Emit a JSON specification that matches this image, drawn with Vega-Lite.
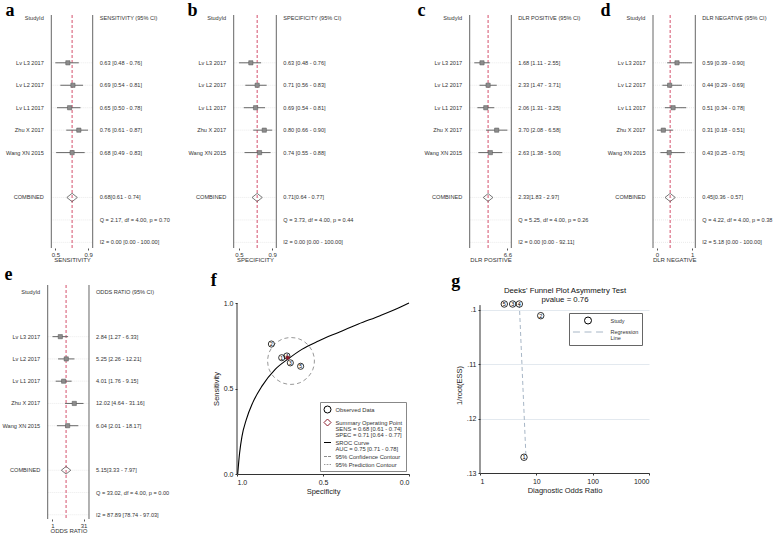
{
"$schema": "https://vega.github.io/schema/vega-lite/v6.json",
"background": "white",
"padding": {"left": 2, "top": 1, "right": 0, "bottom": 0},
"autosize": {"type": "pad"},
"columns": 4,
"spacing": {"row": 37, "column": 0},
"align": "each",
"bounds": "flush",
"resolve": {"scale": {"color": "independent", "shape": "independent"}, "legend": {"color": "independent", "shape": "independent"}},
"datasets": {
"forest": [
{"panel":"a","slot":0,"kind":"header","label":"StudyId","text":"SENSITIVITY (95% CI)"},
{"panel":"a","slot":2,"kind":"study","label":"Lv L3 2017","est":0.63,"lo":0.48,"hi":0.76,"text":"0.63 [0.48 - 0.76]"},
{"panel":"a","slot":3,"kind":"study","label":"Lv L2 2017","est":0.69,"lo":0.54,"hi":0.81,"text":"0.69 [0.54 - 0.81]"},
{"panel":"a","slot":4,"kind":"study","label":"Lv L1 2017","est":0.65,"lo":0.50,"hi":0.78,"text":"0.65 [0.50 - 0.78]"},
{"panel":"a","slot":5,"kind":"study","label":"Zhu X 2017","est":0.76,"lo":0.61,"hi":0.87,"text":"0.76 [0.61 - 0.87]"},
{"panel":"a","slot":6,"kind":"study","label":"Wang XN 2015","est":0.68,"lo":0.49,"hi":0.83,"text":"0.68 [0.49 - 0.83]"},
{"panel":"a","slot":8,"kind":"combined","label":"COMBINED","est":0.68,"lo":0.61,"hi":0.74,"text":"0.68[0.61 - 0.74]"},
{"panel":"a","slot":9,"kind":"stat","label":"","text":"Q =  2.17, df = 4.00, p =  0.70"},
{"panel":"a","slot":10,"kind":"stat","label":"","text":"I2 = 0.00 [0.00 - 100.00]"},
{"panel":"b","slot":0,"kind":"header","label":"StudyId","text":"SPECIFICITY (95% CI)"},
{"panel":"b","slot":2,"kind":"study","label":"Lv L3 2017","est":0.63,"lo":0.48,"hi":0.76,"text":"0.63 [0.48 - 0.76]"},
{"panel":"b","slot":3,"kind":"study","label":"Lv L2 2017","est":0.71,"lo":0.56,"hi":0.83,"text":"0.71 [0.56 - 0.83]"},
{"panel":"b","slot":4,"kind":"study","label":"Lv L1 2017","est":0.69,"lo":0.54,"hi":0.81,"text":"0.69 [0.54 - 0.81]"},
{"panel":"b","slot":5,"kind":"study","label":"Zhu X 2017","est":0.80,"lo":0.66,"hi":0.90,"text":"0.80 [0.66 - 0.90]"},
{"panel":"b","slot":6,"kind":"study","label":"Wang XN 2015","est":0.74,"lo":0.55,"hi":0.88,"text":"0.74 [0.55 - 0.88]"},
{"panel":"b","slot":8,"kind":"combined","label":"COMBINED","est":0.71,"lo":0.64,"hi":0.77,"text":"0.71[0.64 - 0.77]"},
{"panel":"b","slot":9,"kind":"stat","label":"","text":"Q =  3.73, df = 4.00, p =  0.44"},
{"panel":"b","slot":10,"kind":"stat","label":"","text":"I2 = 0.00 [0.00 - 100.00]"},
{"panel":"c","slot":0,"kind":"header","label":"StudyId","text":"DLR POSITIVE (95% CI)"},
{"panel":"c","slot":2,"kind":"study","label":"Lv L3 2017","est":1.68,"lo":1.11,"hi":2.55,"text":"1.68 [1.11 - 2.55]"},
{"panel":"c","slot":3,"kind":"study","label":"Lv L2 2017","est":2.33,"lo":1.47,"hi":3.71,"text":"2.33 [1.47 - 3.71]"},
{"panel":"c","slot":4,"kind":"study","label":"Lv L1 2017","est":2.06,"lo":1.31,"hi":3.25,"text":"2.06 [1.31 - 3.25]"},
{"panel":"c","slot":5,"kind":"study","label":"Zhu X 2017","est":3.70,"lo":2.08,"hi":6.58,"text":"3.70 [2.08 - 6.58]"},
{"panel":"c","slot":6,"kind":"study","label":"Wang XN 2015","est":2.63,"lo":1.38,"hi":5.00,"text":"2.63 [1.38 - 5.00]"},
{"panel":"c","slot":8,"kind":"combined","label":"COMBINED","est":2.33,"lo":1.83,"hi":2.97,"text":"2.33[1.83 - 2.97]"},
{"panel":"c","slot":9,"kind":"stat","label":"","text":"Q =  5.25, df = 4.00, p =  0.26"},
{"panel":"c","slot":10,"kind":"stat","label":"","text":"I2 = 0.00 [0.00 - 92.11]"},
{"panel":"d","slot":0,"kind":"header","label":"StudyId","text":"DLR NEGATIVE (95% CI)"},
{"panel":"d","slot":2,"kind":"study","label":"Lv L3 2017","est":0.59,"lo":0.39,"hi":0.90,"text":"0.59 [0.39 - 0.90]"},
{"panel":"d","slot":3,"kind":"study","label":"Lv L2 2017","est":0.44,"lo":0.29,"hi":0.69,"text":"0.44 [0.29 - 0.69]"},
{"panel":"d","slot":4,"kind":"study","label":"Lv L1 2017","est":0.51,"lo":0.34,"hi":0.78,"text":"0.51 [0.34 - 0.78]"},
{"panel":"d","slot":5,"kind":"study","label":"Zhu X 2017","est":0.31,"lo":0.18,"hi":0.51,"text":"0.31 [0.18 - 0.51]"},
{"panel":"d","slot":6,"kind":"study","label":"Wang XN 2015","est":0.43,"lo":0.25,"hi":0.75,"text":"0.43 [0.25 - 0.75]"},
{"panel":"d","slot":8,"kind":"combined","label":"COMBINED","est":0.45,"lo":0.36,"hi":0.57,"text":"0.45[0.36 - 0.57]"},
{"panel":"d","slot":9,"kind":"stat","label":"","text":"Q =  4.22, df = 4.00, p =  0.38"},
{"panel":"d","slot":10,"kind":"stat","label":"","text":"I2 = 5.18 [0.00 - 100.00]"},
{"panel":"e","slot":0,"kind":"header","label":"StudyId","text":"ODDS RATIO (95% CI)"},
{"panel":"e","slot":2,"kind":"study","label":"Lv L3 2017","est":2.84,"lo":1.27,"hi":6.33,"text":"2.84 [1.27 - 6.33]"},
{"panel":"e","slot":3,"kind":"study","label":"Lv L2 2017","est":5.25,"lo":2.26,"hi":12.21,"text":"5.25 [2.26 - 12.21]"},
{"panel":"e","slot":4,"kind":"study","label":"Lv L1 2017","est":4.01,"lo":1.76,"hi":9.15,"text":"4.01 [1.76 - 9.15]"},
{"panel":"e","slot":5,"kind":"study","label":"Zhu X 2017","est":12.02,"lo":4.64,"hi":31.16,"text":"12.02 [4.64 - 31.16]"},
{"panel":"e","slot":6,"kind":"study","label":"Wang XN 2015","est":6.04,"lo":2.01,"hi":18.17,"text":"6.04 [2.01 - 18.17]"},
{"panel":"e","slot":8,"kind":"combined","label":"COMBINED","est":5.15,"lo":3.33,"hi":7.97,"text":"5.15[3.33 - 7.97]"},
{"panel":"e","slot":9,"kind":"stat","label":"","text":"Q = 33.02, df = 4.00, p =  0.00"},
{"panel":"e","slot":10,"kind":"stat","label":"","text":"I2 = 87.89 [78.74 - 97.03]"}
],
"sroc": [
{"i":0,"spec":0.996,"sens":0.0,"fs":"SROC Curve|AUC = 0.75 [0.71 - 0.78]"},
{"i":1,"spec":0.985,"sens":0.122,"fs":"SROC Curve|AUC = 0.75 [0.71 - 0.78]"},
{"i":2,"spec":0.971,"sens":0.220,"fs":"SROC Curve|AUC = 0.75 [0.71 - 0.78]"},
{"i":3,"spec":0.946,"sens":0.318,"fs":"SROC Curve|AUC = 0.75 [0.71 - 0.78]"},
{"i":4,"spec":0.909,"sens":0.416,"fs":"SROC Curve|AUC = 0.75 [0.71 - 0.78]"},
{"i":5,"spec":0.855,"sens":0.514,"fs":"SROC Curve|AUC = 0.75 [0.71 - 0.78]"},
{"i":6,"spec":0.778,"sens":0.612,"fs":"SROC Curve|AUC = 0.75 [0.71 - 0.78]"},
{"i":7,"spec":0.700,"sens":0.675,"fs":"SROC Curve|AUC = 0.75 [0.71 - 0.78]"},
{"i":8,"spec":0.623,"sens":0.729,"fs":"SROC Curve|AUC = 0.75 [0.71 - 0.78]"},
{"i":9,"spec":0.526,"sens":0.778,"fs":"SROC Curve|AUC = 0.75 [0.71 - 0.78]"},
{"i":10,"spec":0.410,"sens":0.828,"fs":"SROC Curve|AUC = 0.75 [0.71 - 0.78]"},
{"i":11,"spec":0.294,"sens":0.877,"fs":"SROC Curve|AUC = 0.75 [0.71 - 0.78]"},
{"i":12,"spec":0.168,"sens":0.926,"fs":"SROC Curve|AUC = 0.75 [0.71 - 0.78]"},
{"i":13,"spec":0.052,"sens":0.975,"fs":"SROC Curve|AUC = 0.75 [0.71 - 0.78]"},
{"i":14,"spec":0.0,"sens":1.0,"fs":"SROC Curve|AUC = 0.75 [0.71 - 0.78]"}
],
"contour": [
{"i":0,"spec":0.822,"sens":0.661,"fs":"95% Confidence Contour"},
{"i":1,"spec":0.812,"sens":0.713,"fs":"95% Confidence Contour"},
{"i":2,"spec":0.782,"sens":0.758,"fs":"95% Confidence Contour"},
{"i":3,"spec":0.738,"sens":0.788,"fs":"95% Confidence Contour"},
{"i":4,"spec":0.686,"sens":0.798,"fs":"95% Confidence Contour"},
{"i":5,"spec":0.634,"sens":0.788,"fs":"95% Confidence Contour"},
{"i":6,"spec":0.590,"sens":0.758,"fs":"95% Confidence Contour"},
{"i":7,"spec":0.560,"sens":0.713,"fs":"95% Confidence Contour"},
{"i":8,"spec":0.550,"sens":0.661,"fs":"95% Confidence Contour"},
{"i":9,"spec":0.560,"sens":0.609,"fs":"95% Confidence Contour"},
{"i":10,"spec":0.590,"sens":0.564,"fs":"95% Confidence Contour"},
{"i":11,"spec":0.634,"sens":0.534,"fs":"95% Confidence Contour"},
{"i":12,"spec":0.686,"sens":0.524,"fs":"95% Confidence Contour"},
{"i":13,"spec":0.738,"sens":0.534,"fs":"95% Confidence Contour"},
{"i":14,"spec":0.782,"sens":0.564,"fs":"95% Confidence Contour"},
{"i":15,"spec":0.812,"sens":0.609,"fs":"95% Confidence Contour"}
],
"observed": [
{"id":"1","spec":0.74,"sens":0.68,"fs":"Observed Data"},
{"id":"2","spec":0.80,"sens":0.76,"fs":"Observed Data"},
{"id":"3","spec":0.69,"sens":0.65,"fs":"Observed Data"},
{"id":"4","spec":0.71,"sens":0.69,"fs":"Observed Data"},
{"id":"5","spec":0.63,"sens":0.63,"fs":"Observed Data"}
],
"summary": [
{"spec":0.705,"sens":0.68}
],
"deeks": [
{"id":"5","dor":2.70,"ess":0.0989,"gs":"Study"},
{"id":"3","dor":3.80,"ess":0.0989,"gs":"Study"},
{"id":"4","dor":4.99,"ess":0.0989,"gs":"Study"},
{"id":"2","dor":11.97,"ess":0.10105,"gs":"Study"},
{"id":"1","dor":6.04,"ess":0.1271,"gs":"Study"}
],
"deeksline": [
{"i":0,"dor":4.99,"ess":0.0989,"gs":"Regression|Line"},
{"i":1,"dor":6.56,"ess":0.1273,"gs":"Regression|Line"}
]
},
"concat": [
{
"width": 189, "height": 233,
"data": {"name": "forest"},
"transform": [{"filter": "datum.panel == 'a'"}],
"layer": [
{"transform":[{"filter":"datum.kind != 'header'"}],"mark":{"type":"rule","color":"#e2e2e2","strokeDash":[1,1],"strokeWidth":0.7},"encoding":{"x":{"datum":0.4324,"type":"quantitative","scale":{"domain":[0.3931,2.6431],"nice":false,"zero":false},"axis":{"values":[0.48,0.87],"format":".1f","title":"SENSITIVITY","titleX":24}},"x2":{"datum":0.9252},"y":{"field":"slot","type":"quantitative","scale":{"domain":[-0.13,10.25],"reverse":true,"nice":false,"zero":false},"axis":{"title":"a","titleX":-43,"titleY":0,"titleAngle":0,"titleAlign":"left","titleBaseline":"alphabetic","titleFont":"Liberation Serif","titleFontSize":18,"titleFontWeight":"bold","titleColor":"#000","labels":false,"ticks":false,"domain":false,"grid":false}}}},
{"transform":[{"filter":"datum.kind == 'header'"}],"mark":{"type":"rule","color":"#666","strokeWidth":1},"encoding":{"x":{"datum":0.4324,"type":"quantitative","scale":{"domain":[0.3931,2.6431],"nice":false,"zero":false},"axis":{"values":[0.48,0.87],"format":".1f","title":"SENSITIVITY","titleX":24}}}},
{"transform":[{"filter":"datum.kind == 'header'"}],"mark":{"type":"rule","color":"#666","strokeWidth":1},"encoding":{"x":{"datum":0.9252,"type":"quantitative","scale":{"domain":[0.3931,2.6431],"nice":false,"zero":false},"axis":{"values":[0.48,0.87],"format":".1f","title":"SENSITIVITY","titleX":24}}}},
{"transform":[{"filter":"datum.kind == 'combined'"}],"mark":{"type":"rule","color":"#d4506c","strokeDash":[3,2],"strokeWidth":1},"encoding":{"x":{"field":"est","type":"quantitative","scale":{"domain":[0.3931,2.6431],"nice":false,"zero":false},"axis":{"values":[0.48,0.87],"format":".1f","title":"SENSITIVITY","titleX":24}}}},
{"transform":[{"filter":"datum.kind == 'study'"}],"mark":{"type":"rule","color":"#666","strokeWidth":1},"encoding":{"x":{"field":"lo","type":"quantitative","scale":{"domain":[0.3931,2.6431],"nice":false,"zero":false},"axis":{"values":[0.48,0.87],"format":".1f","title":"SENSITIVITY","titleX":24}},"x2":{"field":"hi"},"y":{"field":"slot","type":"quantitative","scale":{"domain":[-0.13,10.25],"reverse":true,"nice":false,"zero":false},"axis":{"title":"a","titleX":-43,"titleY":0,"titleAngle":0,"titleAlign":"left","titleBaseline":"alphabetic","titleFont":"Liberation Serif","titleFontSize":18,"titleFontWeight":"bold","titleColor":"#000","labels":false,"ticks":false,"domain":false,"grid":false}}}},
{"transform":[{"filter":"datum.kind == 'study'"}],"mark":{"type":"point","shape":"square","filled":true,"size":18,"color":"#8c8c8c","stroke":"#555","strokeWidth":0.5,"opacity":1},"encoding":{"x":{"field":"est","type":"quantitative","scale":{"domain":[0.3931,2.6431],"nice":false,"zero":false},"axis":{"values":[0.48,0.87],"format":".1f","title":"SENSITIVITY","titleX":24}},"y":{"field":"slot","type":"quantitative","scale":{"domain":[-0.13,10.25],"reverse":true,"nice":false,"zero":false},"axis":{"title":"a","titleX":-43,"titleY":0,"titleAngle":0,"titleAlign":"left","titleBaseline":"alphabetic","titleFont":"Liberation Serif","titleFontSize":18,"titleFontWeight":"bold","titleColor":"#000","labels":false,"ticks":false,"domain":false,"grid":false}}}},
{"transform":[{"filter":"datum.kind == 'combined'"}],"mark":{"type":"point","shape":"M-1,0L0,-0.8L1,0L0,0.8Z","filled":false,"size":110,"color":"#555","strokeWidth":0.8,"opacity":1},"encoding":{"x":{"field":"est","type":"quantitative","scale":{"domain":[0.3931,2.6431],"nice":false,"zero":false},"axis":{"values":[0.48,0.87],"format":".1f","title":"SENSITIVITY","titleX":24}},"y":{"field":"slot","type":"quantitative","scale":{"domain":[-0.13,10.25],"reverse":true,"nice":false,"zero":false},"axis":{"title":"a","titleX":-43,"titleY":0,"titleAngle":0,"titleAlign":"left","titleBaseline":"alphabetic","titleFont":"Liberation Serif","titleFontSize":18,"titleFontWeight":"bold","titleColor":"#000","labels":false,"ticks":false,"domain":false,"grid":false}}}},
{"transform":[{"filter":"datum.label != ''"}],"mark":{"type":"text","align":"right","baseline":"middle","dx":-7.5,"fontSize":5.6,"color":"#333"},"encoding":{"x":{"datum":0.4324,"type":"quantitative","scale":{"domain":[0.3931,2.6431],"nice":false,"zero":false},"axis":{"values":[0.48,0.87],"format":".1f","title":"SENSITIVITY","titleX":24}},"y":{"field":"slot","type":"quantitative","scale":{"domain":[-0.13,10.25],"reverse":true,"nice":false,"zero":false},"axis":{"title":"a","titleX":-43,"titleY":0,"titleAngle":0,"titleAlign":"left","titleBaseline":"alphabetic","titleFont":"Liberation Serif","titleFontSize":18,"titleFontWeight":"bold","titleColor":"#000","labels":false,"ticks":false,"domain":false,"grid":false}},"text":{"field":"label"}}},
{"mark":{"type":"text","align":"left","baseline":"middle","dx":7,"fontSize":5.6,"color":"#333"},"encoding":{"x":{"datum":0.9252,"type":"quantitative","scale":{"domain":[0.3931,2.6431],"nice":false,"zero":false},"axis":{"values":[0.48,0.87],"format":".1f","title":"SENSITIVITY","titleX":24}},"y":{"field":"slot","type":"quantitative","scale":{"domain":[-0.13,10.25],"reverse":true,"nice":false,"zero":false},"axis":{"title":"a","titleX":-43,"titleY":0,"titleAngle":0,"titleAlign":"left","titleBaseline":"alphabetic","titleFont":"Liberation Serif","titleFontSize":18,"titleFontWeight":"bold","titleColor":"#000","labels":false,"ticks":false,"domain":false,"grid":false}},"text":{"field":"text"}}}
]
},
{
"width": 243, "height": 233,
"data": {"name": "forest"},
"transform": [{"filter": "datum.panel == 'b'"}],
"layer": [
{"transform":[{"filter":"datum.kind != 'header'"}],"mark":{"type":"rule","color":"#e2e2e2","strokeDash":[1,1],"strokeWidth":0.7},"encoding":{"x":{"datum":0.4129,"type":"quantitative","scale":{"domain":[0.4547,3.5307],"nice":false,"zero":false},"axis":{"values":[0.48,0.9],"format":".1f","title":"SPECIFICITY","titleX":18}},"x2":{"datum":0.9522},"y":{"field":"slot","type":"quantitative","scale":{"domain":[-0.13,10.25],"reverse":true,"nice":false,"zero":false},"axis":{"title":"b","titleX":-50,"titleY":0,"titleAngle":0,"titleAlign":"left","titleBaseline":"alphabetic","titleFont":"Liberation Serif","titleFontSize":18,"titleFontWeight":"bold","titleColor":"#000","labels":false,"ticks":false,"domain":false,"grid":false}}}},
{"transform":[{"filter":"datum.kind == 'header'"}],"mark":{"type":"rule","color":"#666","strokeWidth":1},"encoding":{"x":{"datum":0.4129,"type":"quantitative","scale":{"domain":[0.4547,3.5307],"nice":false,"zero":false},"axis":{"values":[0.48,0.9],"format":".1f","title":"SPECIFICITY","titleX":18}}}},
{"transform":[{"filter":"datum.kind == 'header'"}],"mark":{"type":"rule","color":"#666","strokeWidth":1},"encoding":{"x":{"datum":0.9522,"type":"quantitative","scale":{"domain":[0.4547,3.5307],"nice":false,"zero":false},"axis":{"values":[0.48,0.9],"format":".1f","title":"SPECIFICITY","titleX":18}}}},
{"transform":[{"filter":"datum.kind == 'combined'"}],"mark":{"type":"rule","color":"#d4506c","strokeDash":[3,2],"strokeWidth":1},"encoding":{"x":{"field":"est","type":"quantitative","scale":{"domain":[0.4547,3.5307],"nice":false,"zero":false},"axis":{"values":[0.48,0.9],"format":".1f","title":"SPECIFICITY","titleX":18}}}},
{"transform":[{"filter":"datum.kind == 'study'"}],"mark":{"type":"rule","color":"#666","strokeWidth":1},"encoding":{"x":{"field":"lo","type":"quantitative","scale":{"domain":[0.4547,3.5307],"nice":false,"zero":false},"axis":{"values":[0.48,0.9],"format":".1f","title":"SPECIFICITY","titleX":18}},"x2":{"field":"hi"},"y":{"field":"slot","type":"quantitative","scale":{"domain":[-0.13,10.25],"reverse":true,"nice":false,"zero":false},"axis":{"title":"b","titleX":-50,"titleY":0,"titleAngle":0,"titleAlign":"left","titleBaseline":"alphabetic","titleFont":"Liberation Serif","titleFontSize":18,"titleFontWeight":"bold","titleColor":"#000","labels":false,"ticks":false,"domain":false,"grid":false}}}},
{"transform":[{"filter":"datum.kind == 'study'"}],"mark":{"type":"point","shape":"square","filled":true,"size":18,"color":"#8c8c8c","stroke":"#555","strokeWidth":0.5,"opacity":1},"encoding":{"x":{"field":"est","type":"quantitative","scale":{"domain":[0.4547,3.5307],"nice":false,"zero":false},"axis":{"values":[0.48,0.9],"format":".1f","title":"SPECIFICITY","titleX":18}},"y":{"field":"slot","type":"quantitative","scale":{"domain":[-0.13,10.25],"reverse":true,"nice":false,"zero":false},"axis":{"title":"b","titleX":-50,"titleY":0,"titleAngle":0,"titleAlign":"left","titleBaseline":"alphabetic","titleFont":"Liberation Serif","titleFontSize":18,"titleFontWeight":"bold","titleColor":"#000","labels":false,"ticks":false,"domain":false,"grid":false}}}},
{"transform":[{"filter":"datum.kind == 'combined'"}],"mark":{"type":"point","shape":"M-1,0L0,-0.8L1,0L0,0.8Z","filled":false,"size":105,"color":"#555","strokeWidth":0.8,"opacity":1},"encoding":{"x":{"field":"est","type":"quantitative","scale":{"domain":[0.4547,3.5307],"nice":false,"zero":false},"axis":{"values":[0.48,0.9],"format":".1f","title":"SPECIFICITY","titleX":18}},"y":{"field":"slot","type":"quantitative","scale":{"domain":[-0.13,10.25],"reverse":true,"nice":false,"zero":false},"axis":{"title":"b","titleX":-50,"titleY":0,"titleAngle":0,"titleAlign":"left","titleBaseline":"alphabetic","titleFont":"Liberation Serif","titleFontSize":18,"titleFontWeight":"bold","titleColor":"#000","labels":false,"ticks":false,"domain":false,"grid":false}}}},
{"transform":[{"filter":"datum.label != ''"}],"mark":{"type":"text","align":"right","baseline":"middle","dx":-7.5,"fontSize":5.6,"color":"#333"},"encoding":{"x":{"datum":0.4129,"type":"quantitative","scale":{"domain":[0.4547,3.5307],"nice":false,"zero":false},"axis":{"values":[0.48,0.9],"format":".1f","title":"SPECIFICITY","titleX":18}},"y":{"field":"slot","type":"quantitative","scale":{"domain":[-0.13,10.25],"reverse":true,"nice":false,"zero":false},"axis":{"title":"b","titleX":-50,"titleY":0,"titleAngle":0,"titleAlign":"left","titleBaseline":"alphabetic","titleFont":"Liberation Serif","titleFontSize":18,"titleFontWeight":"bold","titleColor":"#000","labels":false,"ticks":false,"domain":false,"grid":false}},"text":{"field":"label"}}},
{"mark":{"type":"text","align":"left","baseline":"middle","dx":7,"fontSize":5.6,"color":"#333"},"encoding":{"x":{"datum":0.9522,"type":"quantitative","scale":{"domain":[0.4547,3.5307],"nice":false,"zero":false},"axis":{"values":[0.48,0.9],"format":".1f","title":"SPECIFICITY","titleX":18}},"y":{"field":"slot","type":"quantitative","scale":{"domain":[-0.13,10.25],"reverse":true,"nice":false,"zero":false},"axis":{"title":"b","titleX":-50,"titleY":0,"titleAngle":0,"titleAlign":"left","titleBaseline":"alphabetic","titleFont":"Liberation Serif","titleFontSize":18,"titleFontWeight":"bold","titleColor":"#000","labels":false,"ticks":false,"domain":false,"grid":false}},"text":{"field":"text"}}}
]
},
{
"width": 173, "height": 233,
"data": {"name": "forest"},
"transform": [{"filter": "datum.panel == 'c'"}],
"layer": [
{"transform":[{"filter":"datum.kind != 'header'"}],"mark":{"type":"rule","color":"#e2e2e2","strokeDash":[1,1],"strokeWidth":0.7},"encoding":{"x":{"datum":0.8672,"type":"quantitative","scale":{"type":"log","domain":[1.5088,16520],"nice":false},"axis":{"values":[1.11,6.58],"format":".1f","title":"DLR POSITIVE","titleX":10.5}},"x2":{"datum":8.12},"y":{"field":"slot","type":"quantitative","scale":{"domain":[-0.13,10.25],"reverse":true,"nice":false,"zero":false},"axis":{"title":"c","titleX":-63,"titleY":0,"titleAngle":0,"titleAlign":"left","titleBaseline":"alphabetic","titleFont":"Liberation Serif","titleFontSize":18,"titleFontWeight":"bold","titleColor":"#000","labels":false,"ticks":false,"domain":false,"grid":false}}}},
{"transform":[{"filter":"datum.kind == 'header'"}],"mark":{"type":"rule","color":"#666","strokeWidth":1},"encoding":{"x":{"datum":0.8672,"type":"quantitative","scale":{"type":"log","domain":[1.5088,16520],"nice":false},"axis":{"values":[1.11,6.58],"format":".1f","title":"DLR POSITIVE","titleX":10.5}}}},
{"transform":[{"filter":"datum.kind == 'header'"}],"mark":{"type":"rule","color":"#666","strokeWidth":1},"encoding":{"x":{"datum":8.12,"type":"quantitative","scale":{"type":"log","domain":[1.5088,16520],"nice":false},"axis":{"values":[1.11,6.58],"format":".1f","title":"DLR POSITIVE","titleX":10.5}}}},
{"transform":[{"filter":"datum.kind == 'combined'"}],"mark":{"type":"rule","color":"#d4506c","strokeDash":[3,2],"strokeWidth":1},"encoding":{"x":{"field":"est","type":"quantitative","scale":{"type":"log","domain":[1.5088,16520],"nice":false},"axis":{"values":[1.11,6.58],"format":".1f","title":"DLR POSITIVE","titleX":10.5}}}},
{"transform":[{"filter":"datum.kind == 'study'"}],"mark":{"type":"rule","color":"#666","strokeWidth":1},"encoding":{"x":{"field":"lo","type":"quantitative","scale":{"type":"log","domain":[1.5088,16520],"nice":false},"axis":{"values":[1.11,6.58],"format":".1f","title":"DLR POSITIVE","titleX":10.5}},"x2":{"field":"hi"},"y":{"field":"slot","type":"quantitative","scale":{"domain":[-0.13,10.25],"reverse":true,"nice":false,"zero":false},"axis":{"title":"c","titleX":-63,"titleY":0,"titleAngle":0,"titleAlign":"left","titleBaseline":"alphabetic","titleFont":"Liberation Serif","titleFontSize":18,"titleFontWeight":"bold","titleColor":"#000","labels":false,"ticks":false,"domain":false,"grid":false}}}},
{"transform":[{"filter":"datum.kind == 'study'"}],"mark":{"type":"point","shape":"square","filled":true,"size":18,"color":"#8c8c8c","stroke":"#555","strokeWidth":0.5,"opacity":1},"encoding":{"x":{"field":"est","type":"quantitative","scale":{"type":"log","domain":[1.5088,16520],"nice":false},"axis":{"values":[1.11,6.58],"format":".1f","title":"DLR POSITIVE","titleX":10.5}},"y":{"field":"slot","type":"quantitative","scale":{"domain":[-0.13,10.25],"reverse":true,"nice":false,"zero":false},"axis":{"title":"c","titleX":-63,"titleY":0,"titleAngle":0,"titleAlign":"left","titleBaseline":"alphabetic","titleFont":"Liberation Serif","titleFontSize":18,"titleFontWeight":"bold","titleColor":"#000","labels":false,"ticks":false,"domain":false,"grid":false}}}},
{"transform":[{"filter":"datum.kind == 'combined'"}],"mark":{"type":"point","shape":"M-1,0L0,-0.8L1,0L0,0.8Z","filled":false,"size":95,"color":"#555","strokeWidth":0.8,"opacity":1},"encoding":{"x":{"field":"est","type":"quantitative","scale":{"type":"log","domain":[1.5088,16520],"nice":false},"axis":{"values":[1.11,6.58],"format":".1f","title":"DLR POSITIVE","titleX":10.5}},"y":{"field":"slot","type":"quantitative","scale":{"domain":[-0.13,10.25],"reverse":true,"nice":false,"zero":false},"axis":{"title":"c","titleX":-63,"titleY":0,"titleAngle":0,"titleAlign":"left","titleBaseline":"alphabetic","titleFont":"Liberation Serif","titleFontSize":18,"titleFontWeight":"bold","titleColor":"#000","labels":false,"ticks":false,"domain":false,"grid":false}}}},
{"transform":[{"filter":"datum.label != ''"}],"mark":{"type":"text","align":"right","baseline":"middle","dx":-7.5,"fontSize":5.6,"color":"#333"},"encoding":{"x":{"datum":0.8672,"type":"quantitative","scale":{"type":"log","domain":[1.5088,16520],"nice":false},"axis":{"values":[1.11,6.58],"format":".1f","title":"DLR POSITIVE","titleX":10.5}},"y":{"field":"slot","type":"quantitative","scale":{"domain":[-0.13,10.25],"reverse":true,"nice":false,"zero":false},"axis":{"title":"c","titleX":-63,"titleY":0,"titleAngle":0,"titleAlign":"left","titleBaseline":"alphabetic","titleFont":"Liberation Serif","titleFontSize":18,"titleFontWeight":"bold","titleColor":"#000","labels":false,"ticks":false,"domain":false,"grid":false}},"text":{"field":"label"}}},
{"mark":{"type":"text","align":"left","baseline":"middle","dx":7,"fontSize":5.6,"color":"#333"},"encoding":{"x":{"datum":8.12,"type":"quantitative","scale":{"type":"log","domain":[1.5088,16520],"nice":false},"axis":{"values":[1.11,6.58],"format":".1f","title":"DLR POSITIVE","titleX":10.5}},"y":{"field":"slot","type":"quantitative","scale":{"domain":[-0.13,10.25],"reverse":true,"nice":false,"zero":false},"axis":{"title":"c","titleX":-63,"titleY":0,"titleAngle":0,"titleAlign":"left","titleBaseline":"alphabetic","titleFont":"Liberation Serif","titleFontSize":18,"titleFontWeight":"bold","titleColor":"#000","labels":false,"ticks":false,"domain":false,"grid":false}},"text":{"field":"text"}}}
]
},
{
"width": 112, "height": 233,
"data": {"name": "forest"},
"transform": [{"filter": "datum.panel == 'd'"}],
"layer": [
{"transform":[{"filter":"datum.kind != 'header'"}],"mark":{"type":"rule","color":"#e2e2e2","strokeDash":[1,1],"strokeWidth":0.7},"encoding":{"x":{"datum":0.0992,"type":"quantitative","scale":{"domain":[0.0992,2.3896],"nice":false,"zero":false},"axis":{"values":[0.18,0.9],"format":".0f","title":"DLR NEGATIVE","titleX":21.2}},"x2":{"datum":0.9642},"y":{"field":"slot","type":"quantitative","scale":{"domain":[-0.13,10.25],"reverse":true,"nice":false,"zero":false},"axis":{"title":"d","titleX":-53,"titleY":0,"titleAngle":0,"titleAlign":"left","titleBaseline":"alphabetic","titleFont":"Liberation Serif","titleFontSize":18,"titleFontWeight":"bold","titleColor":"#000","labels":false,"ticks":false,"domain":false,"grid":false}}}},
{"transform":[{"filter":"datum.kind == 'header'"}],"mark":{"type":"rule","color":"#666","strokeWidth":1},"encoding":{"x":{"datum":0.0992,"type":"quantitative","scale":{"domain":[0.0992,2.3896],"nice":false,"zero":false},"axis":{"values":[0.18,0.9],"format":".0f","title":"DLR NEGATIVE","titleX":21.2}}}},
{"transform":[{"filter":"datum.kind == 'header'"}],"mark":{"type":"rule","color":"#666","strokeWidth":1},"encoding":{"x":{"datum":0.9642,"type":"quantitative","scale":{"domain":[0.0992,2.3896],"nice":false,"zero":false},"axis":{"values":[0.18,0.9],"format":".0f","title":"DLR NEGATIVE","titleX":21.2}}}},
{"transform":[{"filter":"datum.kind == 'combined'"}],"mark":{"type":"rule","color":"#d4506c","strokeDash":[3,2],"strokeWidth":1},"encoding":{"x":{"field":"est","type":"quantitative","scale":{"domain":[0.0992,2.3896],"nice":false,"zero":false},"axis":{"values":[0.18,0.9],"format":".0f","title":"DLR NEGATIVE","titleX":21.2}}}},
{"transform":[{"filter":"datum.kind == 'study'"}],"mark":{"type":"rule","color":"#666","strokeWidth":1},"encoding":{"x":{"field":"lo","type":"quantitative","scale":{"domain":[0.0992,2.3896],"nice":false,"zero":false},"axis":{"values":[0.18,0.9],"format":".0f","title":"DLR NEGATIVE","titleX":21.2}},"x2":{"field":"hi"},"y":{"field":"slot","type":"quantitative","scale":{"domain":[-0.13,10.25],"reverse":true,"nice":false,"zero":false},"axis":{"title":"d","titleX":-53,"titleY":0,"titleAngle":0,"titleAlign":"left","titleBaseline":"alphabetic","titleFont":"Liberation Serif","titleFontSize":18,"titleFontWeight":"bold","titleColor":"#000","labels":false,"ticks":false,"domain":false,"grid":false}}}},
{"transform":[{"filter":"datum.kind == 'study'"}],"mark":{"type":"point","shape":"square","filled":true,"size":18,"color":"#8c8c8c","stroke":"#555","strokeWidth":0.5,"opacity":1},"encoding":{"x":{"field":"est","type":"quantitative","scale":{"domain":[0.0992,2.3896],"nice":false,"zero":false},"axis":{"values":[0.18,0.9],"format":".0f","title":"DLR NEGATIVE","titleX":21.2}},"y":{"field":"slot","type":"quantitative","scale":{"domain":[-0.13,10.25],"reverse":true,"nice":false,"zero":false},"axis":{"title":"d","titleX":-53,"titleY":0,"titleAngle":0,"titleAlign":"left","titleBaseline":"alphabetic","titleFont":"Liberation Serif","titleFontSize":18,"titleFontWeight":"bold","titleColor":"#000","labels":false,"ticks":false,"domain":false,"grid":false}}}},
{"transform":[{"filter":"datum.kind == 'combined'"}],"mark":{"type":"point","shape":"M-1,0L0,-0.8L1,0L0,0.8Z","filled":false,"size":105,"color":"#555","strokeWidth":0.8,"opacity":1},"encoding":{"x":{"field":"est","type":"quantitative","scale":{"domain":[0.0992,2.3896],"nice":false,"zero":false},"axis":{"values":[0.18,0.9],"format":".0f","title":"DLR NEGATIVE","titleX":21.2}},"y":{"field":"slot","type":"quantitative","scale":{"domain":[-0.13,10.25],"reverse":true,"nice":false,"zero":false},"axis":{"title":"d","titleX":-53,"titleY":0,"titleAngle":0,"titleAlign":"left","titleBaseline":"alphabetic","titleFont":"Liberation Serif","titleFontSize":18,"titleFontWeight":"bold","titleColor":"#000","labels":false,"ticks":false,"domain":false,"grid":false}}}},
{"transform":[{"filter":"datum.label != ''"}],"mark":{"type":"text","align":"right","baseline":"middle","dx":-7.5,"fontSize":5.6,"color":"#333"},"encoding":{"x":{"datum":0.0992,"type":"quantitative","scale":{"domain":[0.0992,2.3896],"nice":false,"zero":false},"axis":{"values":[0.18,0.9],"format":".0f","title":"DLR NEGATIVE","titleX":21.2}},"y":{"field":"slot","type":"quantitative","scale":{"domain":[-0.13,10.25],"reverse":true,"nice":false,"zero":false},"axis":{"title":"d","titleX":-53,"titleY":0,"titleAngle":0,"titleAlign":"left","titleBaseline":"alphabetic","titleFont":"Liberation Serif","titleFontSize":18,"titleFontWeight":"bold","titleColor":"#000","labels":false,"ticks":false,"domain":false,"grid":false}},"text":{"field":"label"}}},
{"mark":{"type":"text","align":"left","baseline":"middle","dx":7,"fontSize":5.6,"color":"#333"},"encoding":{"x":{"datum":0.9642,"type":"quantitative","scale":{"domain":[0.0992,2.3896],"nice":false,"zero":false},"axis":{"values":[0.18,0.9],"format":".0f","title":"DLR NEGATIVE","titleX":21.2}},"y":{"field":"slot","type":"quantitative","scale":{"domain":[-0.13,10.25],"reverse":true,"nice":false,"zero":false},"axis":{"title":"d","titleX":-53,"titleY":0,"titleAngle":0,"titleAlign":"left","titleBaseline":"alphabetic","titleFont":"Liberation Serif","titleFontSize":18,"titleFontWeight":"bold","titleColor":"#000","labels":false,"ticks":false,"domain":false,"grid":false}},"text":{"field":"text"}}}
]
},
{
"width": 118, "height": 234,
"data": {"name": "forest"},
"transform": [{"filter": "datum.panel == 'e'"}],
"layer": [
{"transform":[{"filter":"datum.kind != 'header'"}],"mark":{"type":"rule","color":"#e2e2e2","strokeDash":[1,1],"strokeWidth":0.7},"encoding":{"x":{"datum":0.7747,"type":"quantitative","scale":{"type":"log","domain":[0.7991,153300],"nice":false},"axis":{"values":[1.27,31.16],"format":".0f","title":"ODDS RATIO","titleX":20.4}},"x2":{"datum":54.7},"y":{"field":"slot","type":"quantitative","scale":{"domain":[-0.32,10.19],"reverse":true,"nice":false,"zero":false},"axis":{"title":"e","titleX":-44,"titleY":-6,"titleAngle":0,"titleAlign":"left","titleBaseline":"alphabetic","titleFont":"Liberation Serif","titleFontSize":18,"titleFontWeight":"bold","titleColor":"#000","labels":false,"ticks":false,"domain":false,"grid":false}}}},
{"transform":[{"filter":"datum.kind == 'header'"}],"mark":{"type":"rule","color":"#666","strokeWidth":1},"encoding":{"x":{"datum":0.7747,"type":"quantitative","scale":{"type":"log","domain":[0.7991,153300],"nice":false},"axis":{"values":[1.27,31.16],"format":".0f","title":"ODDS RATIO","titleX":20.4}}}},
{"transform":[{"filter":"datum.kind == 'header'"}],"mark":{"type":"rule","color":"#666","strokeWidth":1},"encoding":{"x":{"datum":54.7,"type":"quantitative","scale":{"type":"log","domain":[0.7991,153300],"nice":false},"axis":{"values":[1.27,31.16],"format":".0f","title":"ODDS RATIO","titleX":20.4}}}},
{"transform":[{"filter":"datum.kind == 'combined'"}],"mark":{"type":"rule","color":"#d4506c","strokeDash":[3,2],"strokeWidth":1},"encoding":{"x":{"field":"est","type":"quantitative","scale":{"type":"log","domain":[0.7991,153300],"nice":false},"axis":{"values":[1.27,31.16],"format":".0f","title":"ODDS RATIO","titleX":20.4}}}},
{"transform":[{"filter":"datum.kind == 'study'"}],"mark":{"type":"rule","color":"#666","strokeWidth":1},"encoding":{"x":{"field":"lo","type":"quantitative","scale":{"type":"log","domain":[0.7991,153300],"nice":false},"axis":{"values":[1.27,31.16],"format":".0f","title":"ODDS RATIO","titleX":20.4}},"x2":{"field":"hi"},"y":{"field":"slot","type":"quantitative","scale":{"domain":[-0.32,10.19],"reverse":true,"nice":false,"zero":false},"axis":{"title":"e","titleX":-44,"titleY":-6,"titleAngle":0,"titleAlign":"left","titleBaseline":"alphabetic","titleFont":"Liberation Serif","titleFontSize":18,"titleFontWeight":"bold","titleColor":"#000","labels":false,"ticks":false,"domain":false,"grid":false}}}},
{"transform":[{"filter":"datum.kind == 'study'"}],"mark":{"type":"point","shape":"square","filled":true,"size":18,"color":"#8c8c8c","stroke":"#555","strokeWidth":0.5,"opacity":1},"encoding":{"x":{"field":"est","type":"quantitative","scale":{"type":"log","domain":[0.7991,153300],"nice":false},"axis":{"values":[1.27,31.16],"format":".0f","title":"ODDS RATIO","titleX":20.4}},"y":{"field":"slot","type":"quantitative","scale":{"domain":[-0.32,10.19],"reverse":true,"nice":false,"zero":false},"axis":{"title":"e","titleX":-44,"titleY":-6,"titleAngle":0,"titleAlign":"left","titleBaseline":"alphabetic","titleFont":"Liberation Serif","titleFontSize":18,"titleFontWeight":"bold","titleColor":"#000","labels":false,"ticks":false,"domain":false,"grid":false}}}},
{"transform":[{"filter":"datum.kind == 'combined'"}],"mark":{"type":"point","shape":"M-1,0L0,-0.8L1,0L0,0.8Z","filled":false,"size":90,"color":"#555","strokeWidth":0.8,"opacity":1},"encoding":{"x":{"field":"est","type":"quantitative","scale":{"type":"log","domain":[0.7991,153300],"nice":false},"axis":{"values":[1.27,31.16],"format":".0f","title":"ODDS RATIO","titleX":20.4}},"y":{"field":"slot","type":"quantitative","scale":{"domain":[-0.32,10.19],"reverse":true,"nice":false,"zero":false},"axis":{"title":"e","titleX":-44,"titleY":-6,"titleAngle":0,"titleAlign":"left","titleBaseline":"alphabetic","titleFont":"Liberation Serif","titleFontSize":18,"titleFontWeight":"bold","titleColor":"#000","labels":false,"ticks":false,"domain":false,"grid":false}}}},
{"transform":[{"filter":"datum.label != ''"}],"mark":{"type":"text","align":"right","baseline":"middle","dx":-7.5,"fontSize":5.6,"color":"#333"},"encoding":{"x":{"datum":0.7747,"type":"quantitative","scale":{"type":"log","domain":[0.7991,153300],"nice":false},"axis":{"values":[1.27,31.16],"format":".0f","title":"ODDS RATIO","titleX":20.4}},"y":{"field":"slot","type":"quantitative","scale":{"domain":[-0.32,10.19],"reverse":true,"nice":false,"zero":false},"axis":{"title":"e","titleX":-44,"titleY":-6,"titleAngle":0,"titleAlign":"left","titleBaseline":"alphabetic","titleFont":"Liberation Serif","titleFontSize":18,"titleFontWeight":"bold","titleColor":"#000","labels":false,"ticks":false,"domain":false,"grid":false}},"text":{"field":"label"}}},
{"mark":{"type":"text","align":"left","baseline":"middle","dx":7,"fontSize":5.6,"color":"#333"},"encoding":{"x":{"datum":54.7,"type":"quantitative","scale":{"type":"log","domain":[0.7991,153300],"nice":false},"axis":{"values":[1.27,31.16],"format":".0f","title":"ODDS RATIO","titleX":20.4}},"y":{"field":"slot","type":"quantitative","scale":{"domain":[-0.32,10.19],"reverse":true,"nice":false,"zero":false},"axis":{"title":"e","titleX":-44,"titleY":-6,"titleAngle":0,"titleAlign":"left","titleBaseline":"alphabetic","titleFont":"Liberation Serif","titleFontSize":18,"titleFontWeight":"bold","titleColor":"#000","labels":false,"ticks":false,"domain":false,"grid":false}},"text":{"field":"text"}}}
]
},
{
"width": 172, "height": 189,
"resolve": {"axis": {"x": "independent"}},
"layer": [
{"data":{"values":[{}]},"mark":{"type":"rule","color":"#333","strokeWidth":1},"encoding":{"x":{"datum":1,"type":"quantitative","scale":{"domain":[0,1],"reverse":true,"nice":false,"zero":false},"axis":{"orient":"top","title":"f","titleX":-26.7,"titleY":0,"titleAngle":0,"titleAlign":"left","titleBaseline":"alphabetic","titleFont":"Liberation Serif","titleFontSize":18,"titleFontWeight":"bold","titleColor":"#000","labels":false,"ticks":false,"domain":false,"grid":false}},"y":{"datum":0,"type":"quantitative","scale":{"domain":[0,1.1053],"nice":false,"zero":false},"axis":{"values":[0,0.5,1],"format":".1f","title":"Sensitivity","domain":false,"tickSize":2,"tickColor":"#333","labelFontSize":7,"labelColor":"#222","labelPadding":2,"titleFontSize":7.5,"titleColor":"#222","titlePadding":3,"titleY":103.5}},"y2":{"datum":1}}},
{"data":{"name":"contour"},"mark":{"type":"line","interpolate":"cardinal-closed","strokeDash":[4,3],"strokeWidth":0.9},"encoding":{"x":{"field":"spec","type":"quantitative","scale":{"domain":[0,1],"reverse":true,"nice":false,"zero":false},"axis":{"values":[0,0.5,1],"format":".1f","title":"Specificity","domain":true,"domainColor":"#333","tickSize":2,"tickColor":"#333","labelFontSize":7,"labelColor":"#222","labelPadding":2,"titleFontSize":7.5,"titleColor":"#222","titlePadding":2}},"y":{"field":"sens","type":"quantitative","scale":{"domain":[0,1.1053],"nice":false,"zero":false},"axis":{"values":[0,0.5,1],"format":".1f","title":"Sensitivity","domain":false,"tickSize":2,"tickColor":"#333","labelFontSize":7,"labelColor":"#222","labelPadding":2,"titleFontSize":7.5,"titleColor":"#222","titlePadding":3,"titleY":103.5}},"order":{"field":"i"},"color":{"field":"fs","type":"nominal","scale":{"domain":["Observed Data","Summary Operating Point|SENS = 0.68 [0.61 - 0.74]|SPEC = 0.71 [0.64 - 0.77]","SROC Curve|AUC = 0.75 [0.71 - 0.78]","95% Confidence Contour","95% Prediction Contour"],"range":["#000000","#8b1c2c","#000000","#8c8c8c","#9c9c9c"]},"legend":{"title":null,"orient":"bottom-right","offset":3,"labelExpr":"split(datum.label, '|')","labelFontSize":5.8,"labelColor":"#333","labelLimit":300,"symbolSize":49,"symbolStrokeWidth":1,"padding":3.5,"rowPadding":1,"labelOffset":4,"strokeColor":"#888","fillColor":"#ffffff"}}}},
{"data":{"name":"sroc"},"mark":{"type":"line","interpolate":"monotone","strokeWidth":1.1},"encoding":{"x":{"field":"spec","type":"quantitative","scale":{"domain":[0,1],"reverse":true,"nice":false,"zero":false},"axis":null},"y":{"field":"sens","type":"quantitative","scale":{"domain":[0,1.1053],"nice":false,"zero":false},"axis":{"values":[0,0.5,1],"format":".1f","title":"Sensitivity","domain":false,"tickSize":2,"tickColor":"#333","labelFontSize":7,"labelColor":"#222","labelPadding":2,"titleFontSize":7.5,"titleColor":"#222","titlePadding":3,"titleY":103.5}},"order":{"field":"i"},"color":{"field":"fs","type":"nominal","scale":{"domain":["Observed Data","Summary Operating Point|SENS = 0.68 [0.61 - 0.74]|SPEC = 0.71 [0.64 - 0.77]","SROC Curve|AUC = 0.75 [0.71 - 0.78]","95% Confidence Contour","95% Prediction Contour"],"range":["#000000","#8b1c2c","#000000","#8c8c8c","#9c9c9c"]},"legend":{"title":null,"orient":"bottom-right","offset":3,"labelExpr":"split(datum.label, '|')","labelFontSize":5.8,"labelColor":"#333","labelLimit":300,"symbolSize":49,"symbolStrokeWidth":1,"padding":3.5,"rowPadding":1,"labelOffset":4,"strokeColor":"#888","fillColor":"#ffffff"}}}},
{"data":{"name":"observed"},"mark":{"type":"point","filled":false,"size":38,"strokeWidth":0.8,"opacity":1},"encoding":{"x":{"field":"spec","type":"quantitative","scale":{"domain":[0,1],"reverse":true,"nice":false,"zero":false},"axis":null},"y":{"field":"sens","type":"quantitative","scale":{"domain":[0,1.1053],"nice":false,"zero":false},"axis":{"values":[0,0.5,1],"format":".1f","title":"Sensitivity","domain":false,"tickSize":2,"tickColor":"#333","labelFontSize":7,"labelColor":"#222","labelPadding":2,"titleFontSize":7.5,"titleColor":"#222","titlePadding":3,"titleY":103.5}},"shape":{"field":"fs","type":"nominal","scale":{"domain":["Observed Data","Summary Operating Point|SENS = 0.68 [0.61 - 0.74]|SPEC = 0.71 [0.64 - 0.77]","SROC Curve|AUC = 0.75 [0.71 - 0.78]","95% Confidence Contour","95% Prediction Contour"],"range":["circle","diamond","M-1,0H1","M-1,0H-0.15M0.15,0H1","M-1,0H-0.6M-0.25,0H0.25M0.6,0H1"]},"legend":{"title":null,"orient":"bottom-right","offset":3,"labelExpr":"split(datum.label, '|')","labelFontSize":5.8,"labelColor":"#333","labelLimit":300,"symbolSize":49,"symbolStrokeWidth":1,"padding":3.5,"rowPadding":1,"labelOffset":4,"strokeColor":"#888","fillColor":"#ffffff"}},"color":{"field":"fs","type":"nominal","scale":{"domain":["Observed Data","Summary Operating Point|SENS = 0.68 [0.61 - 0.74]|SPEC = 0.71 [0.64 - 0.77]","SROC Curve|AUC = 0.75 [0.71 - 0.78]","95% Confidence Contour","95% Prediction Contour"],"range":["#000000","#8b1c2c","#000000","#8c8c8c","#9c9c9c"]},"legend":{"title":null,"orient":"bottom-right","offset":3,"labelExpr":"split(datum.label, '|')","labelFontSize":5.8,"labelColor":"#333","labelLimit":300,"symbolSize":49,"symbolStrokeWidth":1,"padding":3.5,"rowPadding":1,"labelOffset":4,"strokeColor":"#888","fillColor":"#ffffff"}}}},
{"data":{"name":"observed"},"mark":{"type":"text","fontSize":5,"color":"#000","align":"center","baseline":"middle"},"encoding":{"x":{"field":"spec","type":"quantitative","scale":{"domain":[0,1],"reverse":true,"nice":false,"zero":false},"axis":null},"y":{"field":"sens","type":"quantitative","scale":{"domain":[0,1.1053],"nice":false,"zero":false},"axis":{"values":[0,0.5,1],"format":".1f","title":"Sensitivity","domain":false,"tickSize":2,"tickColor":"#333","labelFontSize":7,"labelColor":"#222","labelPadding":2,"titleFontSize":7.5,"titleColor":"#222","titlePadding":3,"titleY":103.5}},"text":{"field":"id"}}},
{"data":{"name":"summary"},"mark":{"type":"point","shape":"diamond","filled":true,"size":24,"opacity":1,"color":"#8b1c2c"},"encoding":{"x":{"field":"spec","type":"quantitative","scale":{"domain":[0,1],"reverse":true,"nice":false,"zero":false},"axis":null},"y":{"field":"sens","type":"quantitative","scale":{"domain":[0,1.1053],"nice":false,"zero":false},"axis":{"values":[0,0.5,1],"format":".1f","title":"Sensitivity","domain":false,"tickSize":2,"tickColor":"#333","labelFontSize":7,"labelColor":"#222","labelPadding":2,"titleFontSize":7.5,"titleColor":"#222","titlePadding":3,"titleY":103.5}}}}
]
},
{
"width": 169, "height": 188,
"title": {"text": "g", "dx": -28.7},
"resolve": {"axis": {"x": "independent"}},
"layer": [
{"data":{"values":[{}]},"mark":{"type":"rule","color":"#333","strokeWidth":1},"encoding":{"x":{"datum":1,"type":"quantitative","scale":{"type":"log","domain":[1,1000],"nice":false},"axis":null},"y":{"datum":0.0991,"type":"quantitative","scale":{"domain":[0.0954,0.13],"reverse":true,"nice":false,"zero":false},"axis":{"values":[0.1,0.11,0.12,0.13],"labelExpr":"replace(format(datum.value, '.2~f'), '0.', '.')","title":"1/root(ESS)","grid":true,"gridColor":"#e3e9ef","domain":false,"tickSize":2,"tickColor":"#333","labelFontSize":7,"labelColor":"#222","labelPadding":2,"titleFontSize":7.5,"titleColor":"#222","titlePadding":3,"titleY":100}},"y2":{"datum":0.13}}},
{"data":{"name":"deeksline"},"mark":{"type":"line","strokeDash":[4,3],"strokeWidth":1},"encoding":{"x":{"field":"dor","type":"quantitative","scale":{"type":"log","domain":[1,1000],"nice":false},"axis":{"values":[1,10,100,1000],"format":"~g","title":"Diagnostic Odds Ratio","domain":true,"domainColor":"#333","tickSize":2,"tickColor":"#333","labelFontSize":7,"labelColor":"#222","labelPadding":2,"titleFontSize":7.5,"titleColor":"#222","titlePadding":2}},"y":{"field":"ess","type":"quantitative","scale":{"domain":[0.0954,0.13],"reverse":true,"nice":false,"zero":false},"axis":{"values":[0.1,0.11,0.12,0.13],"labelExpr":"replace(format(datum.value, '.2~f'), '0.', '.')","title":"1/root(ESS)","grid":true,"gridColor":"#e3e9ef","domain":false,"tickSize":2,"tickColor":"#333","labelFontSize":7,"labelColor":"#222","labelPadding":2,"titleFontSize":7.5,"titleColor":"#222","titlePadding":3,"titleY":100}},"order":{"field":"i"},"color":{"field":"gs","type":"nominal","scale":{"domain":["Study","Regression|Line"],"range":["#000000","#a7b6c6"]},"legend":{"title":null,"orient":"none","legendX":89,"legendY":28,"labelExpr":"split(datum.label, '|')","labelFontSize":5.5,"labelColor":"#333","symbolSize":49,"symbolStrokeWidth":1,"symbolOffset":11.5,"labelOffset":18.5,"padding":3.5,"rowPadding":1.5,"strokeColor":"#666","fillColor":"#ffffff"}}}},
{"data":{"name":"deeks"},"mark":{"type":"point","filled":false,"size":42,"strokeWidth":0.8,"opacity":1},"encoding":{"x":{"field":"dor","type":"quantitative","scale":{"type":"log","domain":[1,1000],"nice":false},"axis":{"orient":"top","labels":false,"ticks":false,"domain":false,"grid":false,"title":["Deeks' Funnel Plot Asymmetry Test","pvalue =   0.76"],"titleFontSize":7.8,"titleColor":"#111","titlePadding":-19}},"y":{"field":"ess","type":"quantitative","scale":{"domain":[0.0954,0.13],"reverse":true,"nice":false,"zero":false},"axis":{"values":[0.1,0.11,0.12,0.13],"labelExpr":"replace(format(datum.value, '.2~f'), '0.', '.')","title":"1/root(ESS)","grid":true,"gridColor":"#e3e9ef","domain":false,"tickSize":2,"tickColor":"#333","labelFontSize":7,"labelColor":"#222","labelPadding":2,"titleFontSize":7.5,"titleColor":"#222","titlePadding":3,"titleY":100}},"shape":{"field":"gs","type":"nominal","scale":{"domain":["Study","Regression|Line"],"range":["circle","M-4.3,0H-2.3M-1,0H1M2.3,0H4.3"]},"legend":{"title":null,"orient":"none","legendX":89,"legendY":28,"labelExpr":"split(datum.label, '|')","labelFontSize":5.5,"labelColor":"#333","symbolSize":49,"symbolStrokeWidth":1,"symbolOffset":11.5,"labelOffset":18.5,"padding":3.5,"rowPadding":1.5,"strokeColor":"#666","fillColor":"#ffffff"}},"color":{"field":"gs","type":"nominal","scale":{"domain":["Study","Regression|Line"],"range":["#000000","#a7b6c6"]},"legend":{"title":null,"orient":"none","legendX":89,"legendY":28,"labelExpr":"split(datum.label, '|')","labelFontSize":5.5,"labelColor":"#333","symbolSize":49,"symbolStrokeWidth":1,"symbolOffset":11.5,"labelOffset":18.5,"padding":3.5,"rowPadding":1.5,"strokeColor":"#666","fillColor":"#ffffff"}}}},
{"data":{"name":"deeks"},"mark":{"type":"text","fontSize":5.5,"color":"#000","align":"center","baseline":"middle"},"encoding":{"x":{"field":"dor","type":"quantitative","scale":{"type":"log","domain":[1,1000],"nice":false},"axis":null},"y":{"field":"ess","type":"quantitative","scale":{"domain":[0.0954,0.13],"reverse":true,"nice":false,"zero":false},"axis":{"values":[0.1,0.11,0.12,0.13],"labelExpr":"replace(format(datum.value, '.2~f'), '0.', '.')","title":"1/root(ESS)","grid":true,"gridColor":"#e3e9ef","domain":false,"tickSize":2,"tickColor":"#333","labelFontSize":7,"labelColor":"#222","labelPadding":2,"titleFontSize":7.5,"titleColor":"#222","titlePadding":3,"titleY":100}},"text":{"field":"id"}}}
]
}
],
"config": {
"view": {"stroke": null},
"font": "Liberation Sans",
"style": {"guide-label": {"lineHeight": 6}},
"title": {"font": "Liberation Serif", "fontSize": 18, "fontWeight": "bold", "color": "#000", "anchor": "start", "frame": "group", "offset": -5.5, "baseline": "alphabetic"},
"axis": {"domain": false, "grid": false, "ticks": true, "tickSize": 2, "tickColor": "#555", "labelFontSize": 6, "labelColor": "#333", "labelPadding": 1, "titleFontSize": 6, "titleFontWeight": "normal", "titleColor": "#333", "titlePadding": -1}
}
}
